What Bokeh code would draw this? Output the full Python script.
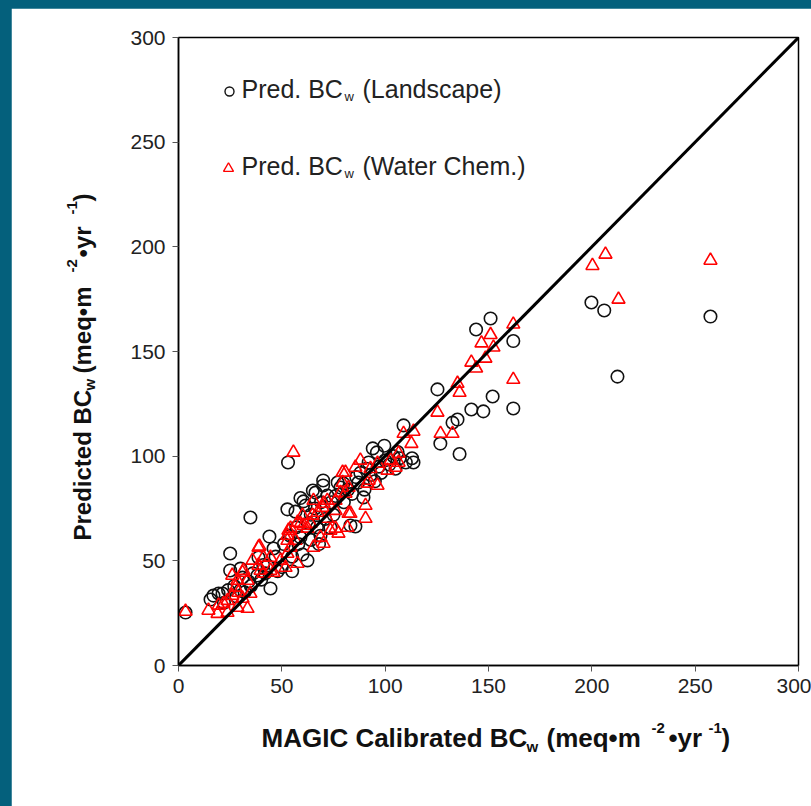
from math import pi
from bokeh.plotting import figure
from bokeh.models import Range1d, Slope, FixedTicker
from bokeh.core.properties import value
from bokeh.layouts import column
from bokeh.embed import file_html
from bokeh.resources import INLINE

# ---------------- data ----------------
land_x = [3.4, 15.5, 16.9, 19.4, 21.3, 25, 25, 30, 33.9, 34.8, 38.2, 38.7, 43, 44.5, 44, 46,
          52.7, 53, 56.6, 59, 60.5, 59, 61.5, 62.4, 65, 66.3, 68.7, 70, 70, 72, 73.5, 77, 78.4,
          79.8, 83.2, 85.6, 87, 89.5, 94, 96, 99.6, 108.9, 113, 113.7, 125.3, 126.7, 132.6, 135,
          136, 141.7, 144, 147.5, 151, 152, 162, 162, 199.8, 206, 212.4, 257.4,
          22, 24, 27, 28, 30, 31, 32, 35, 36, 40, 41, 42, 47, 48, 50, 51, 54, 55, 57, 58, 63, 64,
          66, 67, 69, 71, 74, 75, 76, 80, 82, 84, 86, 88, 90, 91, 92, 93, 95, 97, 98, 100, 102,
          104, 105, 106, 107, 110, 55, 60, 64, 68]
land_y = [25.3, 31.5, 33.4, 34.4, 34.4, 53.5, 45.4, 46.3, 40.1, 70.7, 43, 51.6, 47.8, 36.8, 61.6, 55.9,
          74.6, 97, 73.5, 80, 78.4, 61.2, 76.4, 50.2, 83.6, 82.6, 62, 86, 88.4, 81.2, 65.9, 87.4, 85,
          87, 66.9, 66.4, 87.4, 80.3, 103.7, 101.8, 105, 114.7, 99, 97, 131.9, 106, 116, 117.5,
          101, 122.3, 160.5, 121.4, 165.8, 128.5, 155, 122.8, 173.4, 169.6, 138, 166.7,
          30, 36, 38, 33, 36, 42, 35, 38, 44, 41, 48, 44, 52, 45, 47, 58, 62, 52, 66, 58, 68, 72,
          75, 66, 78, 70, 78, 72, 81, 78, 84, 82, 90, 92, 84, 94, 97, 91, 88, 95, 92, 98, 96,
          100, 94, 102, 99, 97, 45, 53, 60, 58]

chem_x = [3.4, 14.5, 18.9, 23.7, 33.4, 28.5, 21.8, 19.4, 26, 23.7, 31, 34.8, 29, 27.6, 38.7, 35.8,
          38.7, 31, 28.5, 33.4, 41.1, 46, 49.4, 44.5, 52.7, 51.8, 57.6, 54.2, 26, 31.4, 41.1, 39.7,
          44.5, 39.2, 53.2, 52.7, 56.6, 60.5, 63.9, 57.6, 67.3, 70.2, 72, 76, 76, 68.7, 65.3, 70.2,
          79.4, 80.8, 82.3, 81.8, 55.6, 108.9, 113.7, 112.7, 106.5, 102.6, 106.5, 101.1, 105, 88,
          85.6, 80.8, 92.9, 96.3, 91.4, 96.3, 92, 82.3, 78.4, 79.4, 72, 65.3, 69.7, 76, 83.2, 90.5,
          90.5, 60, 64.8, 59, 54.2, 52.7, 62.4, 73.5, 77.4, 125.3, 126.8, 132.6, 135, 136, 141.7,
          144, 146.6, 148.5, 151, 152.4, 162, 162, 200.3, 206.6, 212.9, 257.4]
chem_y = [25.8, 26.3, 24.8, 25.3, 27.2, 27.7, 29.6, 28.7, 33.4, 31, 32, 34.4, 34.9, 37.3, 56.4, 50.2,
          47.8, 44.4, 40.6, 40.6, 44, 44.4, 50.2, 51.6, 53.5, 46.8, 48.7, 56.4, 43, 45.4, 51.6, 45.4,
          45.4, 56.9, 64.5, 59.7, 59.7, 66.9, 67.8, 68.3, 73.1, 77.4, 70.2, 74, 65.5, 61.2, 56.4, 58.3,
          92.2, 82.2, 72.6, 65.9, 101.8, 110.8, 111.8, 106, 101.3, 98, 97, 93.2, 94.6, 98,
          94.6, 92.2, 94, 96.5, 87, 86, 88.4, 85, 82.6, 87.4, 78.8, 78.8, 75.5, 78.8, 72.6, 70.2,
          76.4, 71.7, 71.7, 67.8, 65.5, 62.1, 65.5, 64.5, 63.1, 120.9, 110.8, 110.8, 134.7, 130.4, 144.8,
          142, 154, 146.7, 158, 152, 163, 136.6, 191, 196.4, 174.9, 193.5]

axis_ticks = [0, 50, 100, 150, 200, 250, 300]
axis_min, axis_max = 0, 300

# ---------------- layout constants (window pixels) ----------------
TEAL = "#04607C"
OFF_X, OFF_Y = 11, 8
FR_L, FR_R, FR_T, FR_B = 178, 798, 37, 665
FONT = "Liberation Sans"
BASE_FIX = 0.4   # empirical shift of rendered text baseline, in em


def dx(wx):
    return axis_min + (wx - FR_L) * (axis_max - axis_min) / (FR_R - FR_L)


def dy(wy):
    return axis_min + (FR_B - wy) * (axis_max - axis_min) / (FR_B - FR_T)


W = 811 - OFF_X
H = 806 - OFF_Y
p = figure(width=W, height=H, output_backend="svg", toolbar_location=None,
           x_range=Range1d(axis_min, axis_max), y_range=Range1d(axis_min, axis_max),
           min_border_left=FR_L - OFF_X, min_border_right=W - (FR_R - OFF_X),
           min_border_top=FR_T - OFF_Y, min_border_bottom=H - (FR_B - OFF_Y),
           background_fill_color="white", border_fill_color="white")
p.margin = (OFF_Y, 0, 0, OFF_X)
p.xgrid.visible = False
p.ygrid.visible = False
p.outline_line_color = "black"
p.outline_line_width = 1.5

for ax in (p.xaxis[0], p.yaxis[0]):
    ax.ticker = FixedTicker(ticks=axis_ticks)
    ax.axis_line_color = "black"
    ax.axis_line_width = 1.5
    ax.major_tick_in = 0
    ax.major_tick_out = 6
    ax.major_tick_line_color = "#555555"
    ax.minor_tick_line_color = None
    ax.major_label_text_font = FONT
    ax.major_label_text_font_size = "21px"
    ax.major_label_text_color = "#222222"
p.xaxis.major_label_standoff = 7
p.yaxis.major_label_standoff = 7

p.add_layout(Slope(gradient=1, y_intercept=0, line_color="black", line_width=3))

p.scatter(land_x, land_y, marker="circle", size=12.5, fill_color=None,
          line_color="#111111", line_width=1.6)
p.scatter(chem_x, chem_y, marker="triangle", size=13, fill_color=None,
          line_color="#FF0000", line_width=1.6)


def lab(text, wx, wy, size, bold=False, angle=0.0, color="#111111"):
    shift = BASE_FIX * size
    if angle == 0.0:
        wy = wy - shift
    else:
        wx = wx - shift
    p.text(x=[dx(wx)], y=[dy(wy)], text=[text], text_font=value(FONT),
           text_font_size=f"{size}px", text_font_style="bold" if bold else "normal",
           text_color=color, text_align="left", text_baseline="alphabetic",
           angle=angle, level="overlay")


# legend
p.scatter([dx(229)], [dy(91)], marker="circle", size=9, fill_color=None,
          line_color="#111111", line_width=1.4)
p.scatter([dx(228)], [dy(168)], marker="triangle", size=10, fill_color=None,
          line_color="#FF0000", line_width=1.4)
lab("Pred. BC", 241, 98, 25, color="#222222")
lab("w", 344, 101, 13, color="#222222")
lab("(Landscape)", 362, 98, 25, color="#222222")
lab("Pred. BC", 241, 175, 25, color="#222222")
lab("w", 344, 178, 13, color="#222222")
lab("(Water Chem.)", 362, 175, 25, color="#222222")

# x axis title
lab("MAGIC Calibrated BC", 261, 748, 26, bold=True)
lab("w", 526, 752, 15, bold=True)
lab("(meq\u2022m", 546, 748, 26, bold=True)
lab("-2", 651, 733, 15, bold=True)
lab("\u2022yr", 668, 748, 26, bold=True)
lab("-1", 708, 733, 15, bold=True)
lab(")", 721, 748, 26, bold=True)

# y axis title (rotated)
lab("Predicted BC", 92, 540, 24, bold=True, angle=pi / 2)
lab("w", 95, 390, 15, bold=True, angle=pi / 2)
lab("(meq\u2022m", 92, 373, 24, bold=True, angle=pi / 2)
lab("-2", 77, 272, 15, bold=True, angle=pi / 2)
lab("\u2022yr", 92, 257, 24, bold=True, angle=pi / 2)
lab("-1", 77, 214, 15, bold=True, angle=pi / 2)
lab(")", 92, 201, 24, bold=True, angle=pi / 2)

layout = column(p, styles={"background-color": TEAL}, width=811, height=806)

open("out.html", "w").write(file_html(layout, INLINE))
